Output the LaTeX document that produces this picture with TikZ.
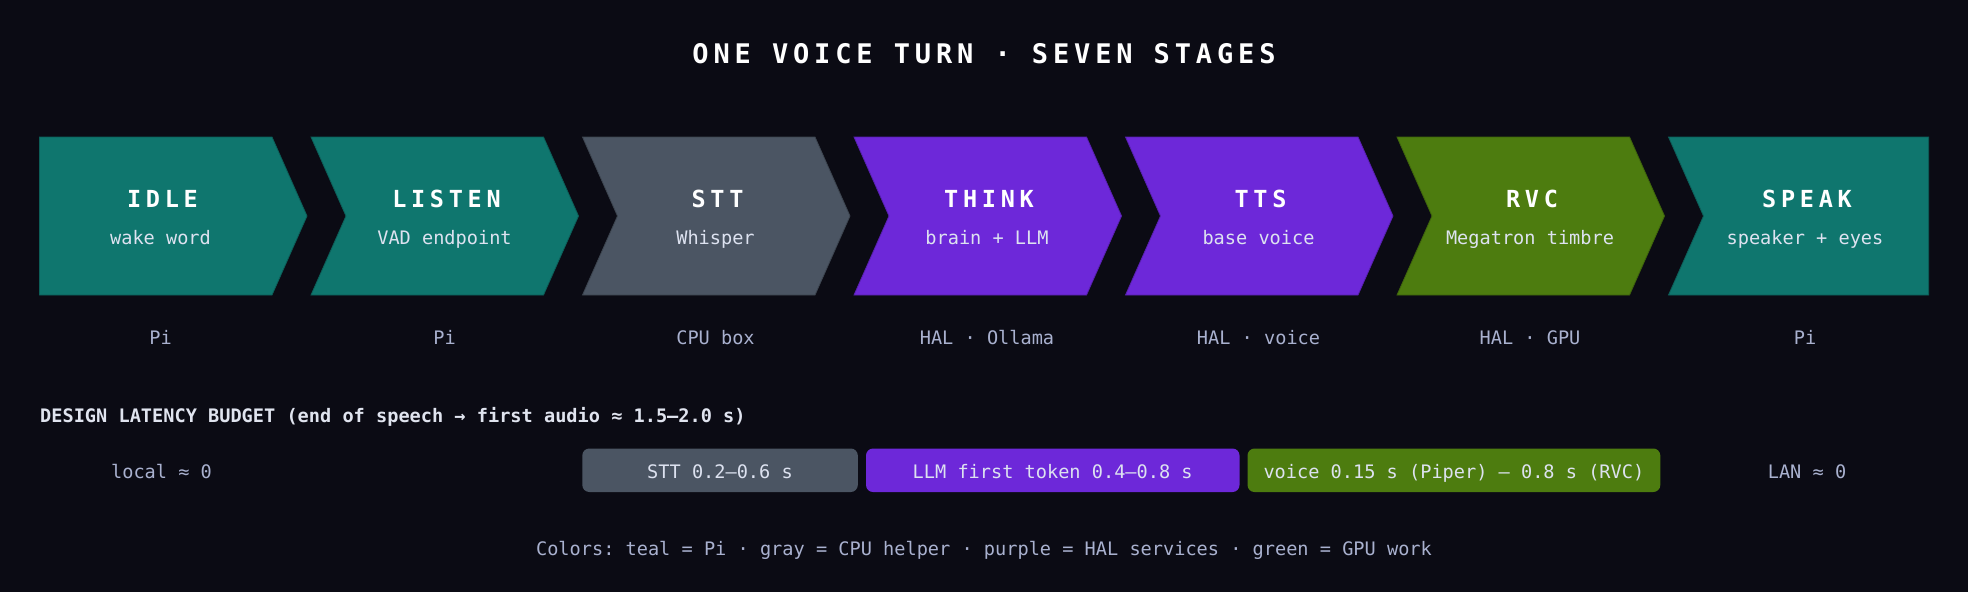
\documentclass[tikz,border=0pt]{standalone}
\usepackage{fontspec}
\setmainfont{DejaVu Sans Mono}
\setmonofont{DejaVu Sans Mono}
\newfontfamily\titlefont[LetterSpace=18]{DejaVu Sans Mono}
\newfontfamily\stagefont[LetterSpace=20]{DejaVu Sans Mono}
\definecolor{bg}{HTML}{0B0B14}
\definecolor{teal}{HTML}{0F766E}
\definecolor{grayc}{HTML}{4B5563}
\definecolor{purp}{HTML}{6D28D9}
\definecolor{grn}{HTML}{4D7C0F}
\definecolor{subtxt}{HTML}{DDE2F0}
\definecolor{hosttxt}{HTML}{A9B1CF}
\definecolor{headtxt}{HTML}{E0E4EF}
\frenchspacing
\begin{document}
\begin{tikzpicture}[x=1pt,y=-1pt,
  stagetitle/.style={anchor=base,inner sep=0,text=white,font=\stagefont\bfseries\fontsize{23.5}{28}\selectfont},
  stagesub/.style={anchor=base,inner sep=0,text=subtxt,font=\fontsize{18.6}{22}\selectfont},
  hostlbl/.style={anchor=base,inner sep=0,text=hosttxt,font=\fontsize{18.6}{22}\selectfont},
  bartxt/.style={anchor=base,inner sep=0,text=subtxt,font=\fontsize{18.6}{22}\selectfont},
  barbox/.style={rounded corners=7pt},
  chev/.style={draw=#1!80!black,line width=0.8pt,fill=#1}
]
\fill[bg] (0,0) rectangle (1968,592);
\useasboundingbox (0,0) rectangle (1968,592);

% title
\node[anchor=base,inner sep=0,text=white,font=\titlefont\bfseries\fontsize{27}{32}\selectfont] (title) at (984,63.3) {ONE VOICE TURN · SEVEN STAGES\hspace{-4.9pt}};

% chevrons
\path[chev=teal] (39.5,137) -- (272,137) -- (307,216) -- (272,295) -- (39.5,295) -- cycle;
\foreach \xo/\col in {311/teal,582.5/grayc,854/purp,1125.5/purp,1397/grn}{
  \path[chev=\col] (\xo,137) -- ({\xo+232.5},137) -- ({\xo+267.5},216) -- ({\xo+232.5},295) -- (\xo,295) -- ({\xo+35},216) -- cycle;
}
\path[chev=teal] (1668.5,137) -- (1928.7,137) -- (1928.7,295) -- (1668.5,295) -- (1703.5,216) -- cycle;

% stage texts
\node[stagetitle] (t1) at (162.5,207.3) {IDLE\hspace{-4.7pt}};
\node[stagesub]   (s1) at (160.5,244) {wake word};
\node[hostlbl]    (h1) at (160.5,344) {Pi};

\node[stagetitle] (t2) at (446.5,207.3) {LISTEN\hspace{-4.7pt}};
\node[stagesub]   (s2) at (444.5,244) {VAD endpoint};
\node[hostlbl]    (h2) at (444.5,344) {Pi};

\node[stagetitle] (t3) at (717.5,207.3) {STT\hspace{-4.7pt}};
\node[stagesub]   (s3) at (715.5,244) {Whisper};
\node[hostlbl]    (h3) at (715.5,344) {CPU box};

\node[stagetitle] (t4) at (989,207.3) {THINK\hspace{-4.7pt}};
\node[stagesub]   (s4) at (987,244) {brain + LLM};
\node[hostlbl]    (h4) at (987,344) {HAL · Ollama};

\node[stagetitle] (t5) at (1260.5,207.3) {TTS\hspace{-4.7pt}};
\node[stagesub]   (s5) at (1258.5,244) {base voice};
\node[hostlbl]    (h5) at (1258.5,344) {HAL · voice};

\node[stagetitle] (t6) at (1532,207.3) {RVC\hspace{-4.7pt}};
\node[stagesub]   (s6) at (1530,244) {Megatron timbre};
\node[hostlbl]    (h6) at (1530,344) {HAL · GPU};

\node[stagetitle] (t7) at (1807,207.3) {SPEAK\hspace{-4.7pt}};
\node[stagesub]   (s7) at (1805,244) {speaker + eyes};
\node[hostlbl]    (h7) at (1805,344) {Pi};

% latency budget
\node[anchor=base west,inner sep=0,text=headtxt,font=\bfseries\fontsize{18.6}{22}\selectfont] (head) at (40,422.7) {DESIGN LATENCY BUDGET (end of speech → first audio ≈ 1.5–2.0 s)};

\fill[grayc,barbox] (582.3,448.5) rectangle (857.8,492);
\fill[purp,barbox]  (866,448.5) rectangle (1239.5,492);
\fill[grn,barbox]   (1247.5,448.5) rectangle (1660.3,492);

\node[bartxt] (b1) at (720,478.3) {STT 0.2–0.6 s};
\node[bartxt] (b2) at (1052.7,478.3) {LLM first token 0.4–0.8 s};
\node[bartxt] (b3) at (1453.9,478.3) {voice 0.15 s (Piper) – 0.8 s (RVC)};

\node[hostlbl] (loc) at (161.5,478.3) {local ≈ 0};
\node[hostlbl] (lan) at (1807,478.3) {LAN ≈ 0};

% footer
\node[hostlbl] (foot) at (984,555) {Colors: teal = Pi · gray = CPU helper · purple = HAL services · green = GPU work};
\end{tikzpicture}
\end{document}
